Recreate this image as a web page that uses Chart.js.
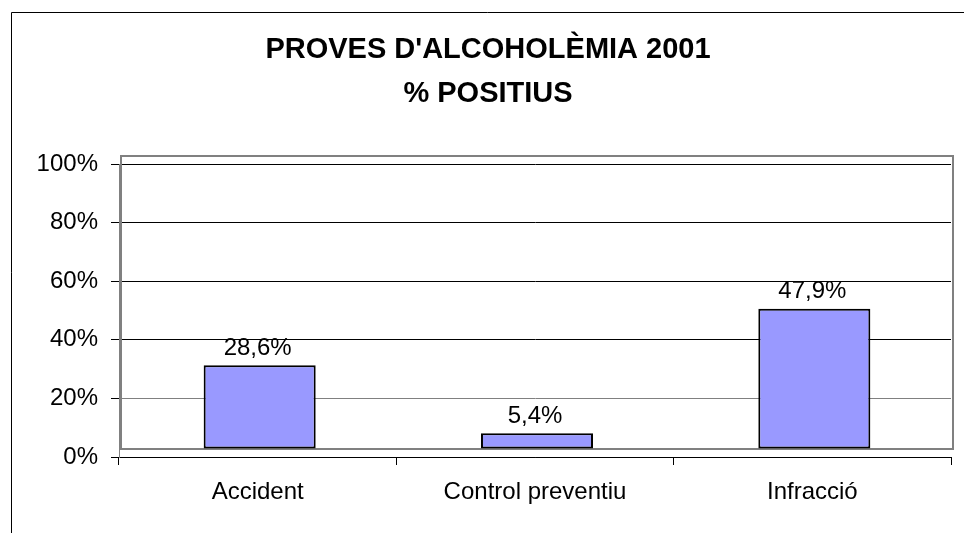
<!DOCTYPE html>
<html>
<head>
<meta charset="utf-8">
<script src="https://cdn.jsdelivr.net/npm/chart.js@4/dist/chart.umd.min.js"></script>
<style>
    html, body { margin: 0; padding: 0; background: #fff; }
    #wrap { width: 964px; height: 533px; position: relative; }
</style>
</head>
<body>
<div id="wrap"><canvas id="chart"></canvas></div>
<script>
// dades del grafic
const categories = ['Accident', 'Control preventiu', 'Infracció'];
const positius = [28.6, 5.4, 47.9];
const yTicks = [0, 20, 40, 60, 80, 100];
const titleLines = ["PROVES D'ALCOHOLÈMIA 2001", '% POSITIUS'];

const FONT = "'Liberation Sans', Arial, sans-serif";
const DEPTH_X = 2;   // desplacament "3D" de les barres i la paret
const DEPTH_Y = 8;

const fmtPct = v => v.toFixed(1).replace('.', ',') + '%';

// marc exterior (talla per la dreta i per baix)
const framePlugin = {
    id: 'frame',
    beforeDraw(chart) {
        const ctx = chart.ctx;
        ctx.save();
        ctx.fillStyle = '#fff';
        ctx.fillRect(0, 0, chart.width, chart.height);
        ctx.strokeStyle = '#000';
        ctx.lineWidth = 1;
        ctx.beginPath();
        ctx.moveTo(11.5, chart.height);
        ctx.lineTo(11.5, 12.5);
        ctx.lineTo(chart.width, 12.5);
        ctx.stroke();
        ctx.restore();
    },
};

// paret gris del grafic
const wallPlugin = {
    id: 'wall',
    beforeDatasetsDraw(chart) {
        const { ctx, chartArea: a } = chart;
        ctx.save();
        ctx.strokeStyle = '#808080';
        ctx.lineWidth = 2;
        ctx.strokeRect(a.left + DEPTH_X, a.top - DEPTH_Y, a.right - a.left, a.bottom - a.top);
        ctx.restore();
    },
};

const depthPlugin = {
    id: 'depth',
    beforeDatasetDraw(chart) {
        chart.ctx.save();
        chart.ctx.translate(DEPTH_X, -DEPTH_Y);
    },
    afterDatasetDraw(chart) {
        chart.ctx.restore();
    },
};

const labelsPlugin = {
    id: 'barLabels',
    afterDatasetsDraw(chart) {
        const ctx = chart.ctx;
        const meta = chart.getDatasetMeta(0);
        ctx.save();
        ctx.font = `24px ${FONT}`;
        ctx.fillStyle = '#000';
        ctx.textAlign = 'center';
        ctx.textBaseline = 'middle';
        meta.data.forEach((bar, i) => {
            ctx.fillText(fmtPct(positius[i]), bar.x, bar.y - 25);
        });
        ctx.restore();
    },
};

new Chart(document.getElementById('chart'), {
    type: 'bar',
    data: {
        labels: categories,
        datasets: [{
            data: positius,
            backgroundColor: '#9999ff',
            borderColor: '#000',
            borderWidth: 2,
            borderSkipped: false,
            categoryPercentage: 1,
            barPercentage: 0.404,
        }],
    },
    options: {
        responsive: true,
        maintainAspectRatio: false,
        animation: false,
        events: [],
        layout: { padding: { left: 25, right: 13, top: 0, bottom: 0 } },
        plugins: {
            legend: { display: false },
            tooltip: { enabled: false },
            title: {
                display: true,
                text: titleLines,
                color: '#000',
                font: { family: FONT, size: 29, weight: 'bold', lineHeight: 1.5 },
                padding: { top: 28.5, bottom: 48.5 },
            },
        },
        scales: {
            x: {
                offset: true,
                grid: { offset: true, drawOnChartArea: false, drawTicks: true, tickLength: 8, color: '#000' },
                border: { color: '#000', width: 1 },
                ticks: { color: '#000', padding: 13, font: { family: FONT, size: 24 } },
                afterFit(scale) { scale.height = 76; },
            },
            y: {
                min: 0,
                max: 100,
                afterBuildTicks(scale) { scale.ticks = yTicks.map(v => ({ value: v })); },
                grid: {
                    color: c => (c.tick && c.tick.value === 20 ? '#808080' : '#000'),
                    tickColor: '#000',
                    tickLength: 8,
                },
                border: { color: '#808080', width: 1 },
                ticks: {
                    color: '#000',
                    padding: 13,
                    font: { family: FONT, size: 24 },
                    callback: v => v + '%',
                },
                afterFit(scale) { scale.width = 94; },
            },
        },
    },
    plugins: [framePlugin, wallPlugin, depthPlugin, labelsPlugin],
});
</script>
</body>
</html>
